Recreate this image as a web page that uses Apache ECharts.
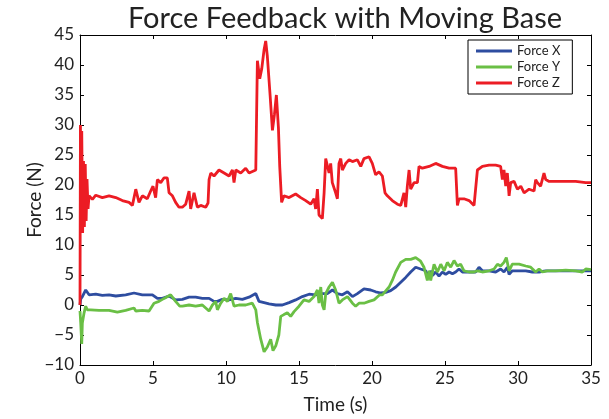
<!DOCTYPE html>
<html>
<head>
<meta charset="utf-8">
<script src="https://cdn.jsdelivr.net/npm/echarts@6/dist/echarts.min.js"></script>
<style>
html,body{margin:0;padding:0;background:#fff;}
#chart{width:609px;height:419px;}
</style>
</head>
<body>
<div id="chart"></div>
<script>
var chartTitle = 'Force Feedback with Moving Base';
var seriesNames = ['Force X', 'Force Y', 'Force Z'];
var xTicks = [0, 5, 10, 15, 20, 25, 30, 35];
var yTicks = [-10, -5, 0, 5, 10, 15, 20, 25, 30, 35, 40, 45];

var timeX = [0, 0.05, 0.16, 0.39, 0.62, 1.08, 1.53, 1.99, 2.45, 3.13,
  3.70, 4.27, 4.96, 5.30, 5.64, 6.10, 6.55, 7.01, 7.47, 7.92,
  8.38, 8.84, 9.18, 9.41, 9.75, 10.21, 10.67, 11.12, 11.58, 12.04,
  12.26, 12.61, 12.95, 13.41, 13.86, 14.32, 14.77, 15.23, 15.69, 16.14,
  16.60, 16.94, 17.29, 17.63, 17.97, 18.32, 18.66, 19.00, 19.45, 19.91,
  20.25, 20.60, 20.94, 21.28, 21.63, 21.97, 22.31, 22.65, 22.99, 23.33,
  23.68, 23.91, 24.02, 24.14, 24.36, 24.59, 24.82, 25.05, 25.28, 25.51,
  25.73, 25.96, 26.19, 26.53, 26.88, 27.10, 27.33, 27.56, 28.02, 28.47,
  28.81, 29.04, 29.27, 29.39, 29.61, 30.07, 30.53, 30.98, 31.44, 31.90,
  32.58, 33.27, 33.95, 34.64, 35.00];
var forceX = [0, 1.0, 1.4, 2.5, 1.7, 1.8, 1.6, 1.7, 1.5, 1.7,
  2.0, 1.7, 1.7, 1.1, 1.1, 1.5, 0.85, 0.95, 1.3, 1.3,
  1.1, 1.1, 0.6, 0.6, 0.95, 0.85, 1.1, 0.95, 1.3, 1.9,
  0.6, 0.4, 0.2, 0.0, 0.0, 0.4, 0.85, 1.4, 1.8, 1.7,
  1.9, 1.9, 2.5, 1.9, 1.7, 2.2, 1.4, 1.9, 2.7, 2.5,
  2.2, 2.0, 2.1, 2.4, 3.0, 3.8, 4.6, 5.5, 6.3, 6.0,
  5.7, 4.6, 5.7, 4.9, 5.5, 4.8, 5.5, 5.1, 5.5, 5.2,
  5.5, 6.0, 5.5, 5.5, 5.5, 5.5, 6.3, 5.7, 5.7, 5.5,
  6.0, 5.5, 6.3, 5.1, 5.7, 5.7, 5.7, 5.5, 5.5, 5.7,
  5.7, 5.7, 5.7, 5.7, 5.7];

var timeY = [0, 0.05, 0.12, 0.16, 0.28, 0.39, 0.50, 0.73, 1.30, 1.99,
  2.56, 3.13, 3.70, 3.82, 4.27, 4.73, 5.07, 5.41, 5.76, 6.21,
  6.55, 6.83, 7.01, 7.47, 7.92, 8.38, 8.84, 9.07, 9.29, 9.41,
  9.64, 9.87, 10.10, 10.32, 10.55, 10.89, 11.35, 11.80, 12.04, 12.15,
  12.38, 12.61, 12.83, 13.06, 13.22, 13.41, 13.50, 13.62, 13.75, 13.97,
  14.20, 14.43, 14.66, 15.00, 15.34, 15.69, 16.03, 16.26, 16.37, 16.49,
  16.60, 16.72, 16.83, 17.06, 17.29, 17.51, 17.74, 17.97, 18.32, 18.66,
  18.88, 19.11, 19.45, 19.80, 20.14, 20.53, 20.71, 21.17, 21.39, 21.62,
  21.97, 22.31, 22.65, 22.99, 23.33, 23.56, 23.79, 23.91, 24.02, 24.25,
  24.48, 24.71, 24.94, 25.16, 25.39, 25.62, 25.85, 26.07, 26.30, 26.65,
  26.99, 27.22, 27.56, 28.02, 28.36, 28.59, 28.81, 29.04, 29.20, 29.39,
  29.61, 30.07, 30.53, 30.87, 31.21, 31.44, 31.67, 32.01, 32.58, 33.27,
  33.95, 34.41, 34.64, 35.00];
var forceY = [-1, -3, -6.5, -3, -1.3, -0.2, -0.8, -0.8, -0.9, -0.9,
  -1.2, -0.9, -0.5, -1.0, -0.9, -1.0, 0.3, 0.6, 1.1, 1.7,
  0.6, -0.2, -0.2, 0.0, -0.2, 0.0, -1.0, 0.0, 0.6, -0.8,
  0.3, 1.1, 0.6, 1.9, -0.2, 0.0, 0.0, 0.3, -0.8, -2.9,
  -5.7, -7.8, -7.0, -5.7, -7.6, -6.8, -7.0, -5.0, -1.9, -1.6,
  -1.3, -1.9, -1.1, -0.2, 0.85, 0.6, 1.4, 2.5, 0.3, 3.0,
  0.0, -0.8, 1.9, 3.0, 3.8, 2.5, 0.3, 0.85, 1.4, 0.3,
  -0.2, 0.3, 0.3, 0.6, 0.85, 1.7, 1.7, 3.0, 4.1, 5.5,
  7.1, 7.6, 7.6, 7.9, 7.3, 6.3, 4.1, 5.7, 4.1, 6.8,
  5.5, 6.8, 5.7, 7.1, 6.3, 7.4, 6.5, 6.8, 5.7, 5.5,
  5.5, 5.7, 5.5, 5.7, 6.0, 6.8, 6.5, 7.1, 7.9, 5.7,
  6.8, 6.8, 6.5, 6.3, 5.5, 6.0, 5.5, 5.7, 5.7, 5.8,
  5.7, 5.5, 6.0, 5.9];

var timeZ = [0, 0.03, 0.08, 0.12, 0.18, 0.24, 0.30, 0.36, 0.42, 0.48,
  0.55, 0.62, 0.85, 1.08, 1.53, 1.99, 2.45, 2.90, 3.36, 3.59,
  3.82, 4.04, 4.27, 4.61, 4.84, 5.00, 5.18, 5.30, 5.53, 5.76,
  5.98, 6.10, 6.33, 6.55, 6.78, 7.01, 7.24, 7.47, 7.58, 7.81,
  8.04, 8.27, 8.61, 8.77, 8.84, 8.96, 9.18, 9.52, 9.87, 10.21,
  10.44, 10.55, 10.67, 11.01, 11.35, 11.58, 12.04, 12.15, 12.31, 12.45,
  12.61, 12.72, 12.83, 13.02, 13.18, 13.32, 13.45, 13.59, 13.68, 13.81,
  13.97, 14.32, 14.77, 15.12, 15.46, 15.80, 16.03, 16.14, 16.26, 16.37,
  16.60, 16.72, 16.83, 16.94, 17.06, 17.17, 17.28, 17.51, 17.63, 17.74,
  17.86, 17.97, 18.20, 18.43, 18.66, 19.00, 19.23, 19.45, 19.80, 20.02,
  20.25, 20.48, 20.71, 20.89, 21.05, 21.39, 21.74, 21.97, 22.19, 22.31,
  22.42, 22.54, 22.65, 22.88, 23.11, 23.22, 23.45, 23.91, 24.36, 24.82,
  25.28, 25.73, 25.85, 25.96, 26.30, 26.65, 26.99, 27.22, 27.33, 27.56,
  28.02, 28.47, 28.81, 28.93, 29.04, 29.16, 29.27, 29.39, 29.50, 29.73,
  29.96, 30.19, 30.42, 30.76, 31.10, 31.21, 31.33, 31.55, 31.78, 31.90,
  32.13, 32.58, 33.27, 33.95, 34.64, 35.00];
var forceZ = [0, 30, 14, 29, 12, 24, 13, 23.5, 14, 21,
  16, 18.2, 17.6, 18.3, 17.9, 18.2, 17.9, 17.4, 17.1, 16.6,
  19.3, 17.1, 18.2, 17.7, 19.0, 19.8, 17.9, 20.9, 20.4, 21.2,
  21.2, 18.7, 18.2, 17.1, 16.3, 16.3, 16.8, 19.0, 16.0, 18.7,
  16.3, 16.6, 16.3, 17.0, 20.9, 22.0, 21.5, 22.5, 22.0, 21.5,
  22.5, 20.4, 22.5, 22.0, 22.8, 22.0, 22.5, 40.7, 37.7, 39.4,
  42.6, 44.0, 41.5, 35.0, 29.1, 31.8, 35.0, 29.6, 23.1, 17.1,
  18.2, 17.9, 18.5, 17.9, 17.4, 16.8, 17.7, 16.0, 19.3, 15.0,
  14.4, 18.7, 24.4, 24.2, 22.0, 23.6, 20.4, 18.7, 17.7, 23.6,
  24.4, 22.5, 23.6, 24.2, 23.9, 24.2, 23.1, 24.4, 24.7, 23.6,
  21.7, 22.2, 21.5, 18.7, 18.2, 17.4, 16.8, 16.6, 18.7, 16.3,
  19.8, 22.5, 19.3, 20.4, 20.4, 23.1, 22.8, 23.1, 23.6, 23.1,
  22.8, 22.8, 16.6, 17.7, 17.7, 17.4, 16.6, 22.5, 22.5, 23.1,
  23.3, 23.3, 23.1, 20.9, 22.5, 19.8, 22.0, 18.2, 20.4, 20.6,
  19.3, 19.8, 18.7, 19.3, 19.0, 20.9, 20.4, 19.8, 22.0, 20.9,
  20.6, 20.6, 20.6, 20.6, 20.4, 20.4];

function zip(t, v) { return t.map(function (x, i) { return [x, v[i]]; }); }

var FONT = 'Lato';
var colors = ['#2E4DA0', '#6ABF45', '#EC1C24'];
var chart = echarts.init(document.getElementById('chart'), null, {renderer: 'canvas'});

function axisBase(extra) {
  var o = {
    type: 'value',
    axisLine: {show: true, onZero: false, lineStyle: {color: '#000', width: 1}},
    axisTick: {show: true, inside: true, length: 4, lineStyle: {color: '#000', width: 1}},
    splitLine: {show: false},
    axisLabel: {show: true, fontFamily: FONT, fontSize: 17, color: '#222'}
  };
  for (var k in extra) o[k] = extra[k];
  return o;
}
function minusFmt(v) { return String(v).replace('-', '\u2212'); }

chart.setOption({
  animation: false,
  backgroundColor: '#fff',
  color: colors,
  graphic: [{
    type: 'text', x: 345, y: 4,
    style: {text: chartTitle, font: '29px ' + FONT, fill: '#222', textAlign: 'center', textVerticalAlign: 'top'}
  }],
  grid: {left: 80, right: 18, top: 35, bottom: 46},
  legend: {
    orient: 'vertical', left: 468, top: 40,
    data: seriesNames,
    icon: 'rect', itemWidth: 36, itemHeight: 3, itemGap: 2,
    padding: [4, 12, 4, 8],
    borderColor: '#000', borderWidth: 1, backgroundColor: '#fff',
    textStyle: {fontFamily: FONT, fontSize: 13, color: '#222', lineHeight: 14}
  },
  xAxis: [
    axisBase({min: 0, max: 35, interval: 5, position: 'bottom',
      axisLabel: {fontFamily: FONT, fontSize: 17, color: '#222', margin: 5},
      name: 'Time (s)', nameLocation: 'middle', nameGap: 30, nameMoveOverlap: false,
      nameTextStyle: {fontFamily: FONT, fontSize: 19, color: '#222'}}),
    axisBase({min: 0, max: 35, interval: 5, position: 'top', axisLabel: {show: false}})
  ],
  yAxis: [
    axisBase({min: -10, max: 45, interval: 5, position: 'left',
      axisLabel: {fontFamily: FONT, fontSize: 17, color: '#222', margin: 6, formatter: minusFmt},
      name: 'Force (N)', nameLocation: 'middle', nameGap: 36, nameMoveOverlap: false,
      nameTextStyle: {fontFamily: FONT, fontSize: 19, color: '#222'}}),
    axisBase({min: -10, max: 45, interval: 5, position: 'right', axisLabel: {show: false}})
  ],
  series: [
    {name: seriesNames[0], type: 'line', data: zip(timeX, forceX), showSymbol: false, lineStyle: {width: 2.8}, xAxisIndex: 0, yAxisIndex: 0},
    {name: seriesNames[1], type: 'line', data: zip(timeY, forceY), showSymbol: false, lineStyle: {width: 2.8}, xAxisIndex: 0, yAxisIndex: 0},
    {name: seriesNames[2], type: 'line', data: zip(timeZ, forceZ), showSymbol: false, lineStyle: {width: 2.8}, xAxisIndex: 0, yAxisIndex: 0}
  ]
});
</script>
</body>
</html>
